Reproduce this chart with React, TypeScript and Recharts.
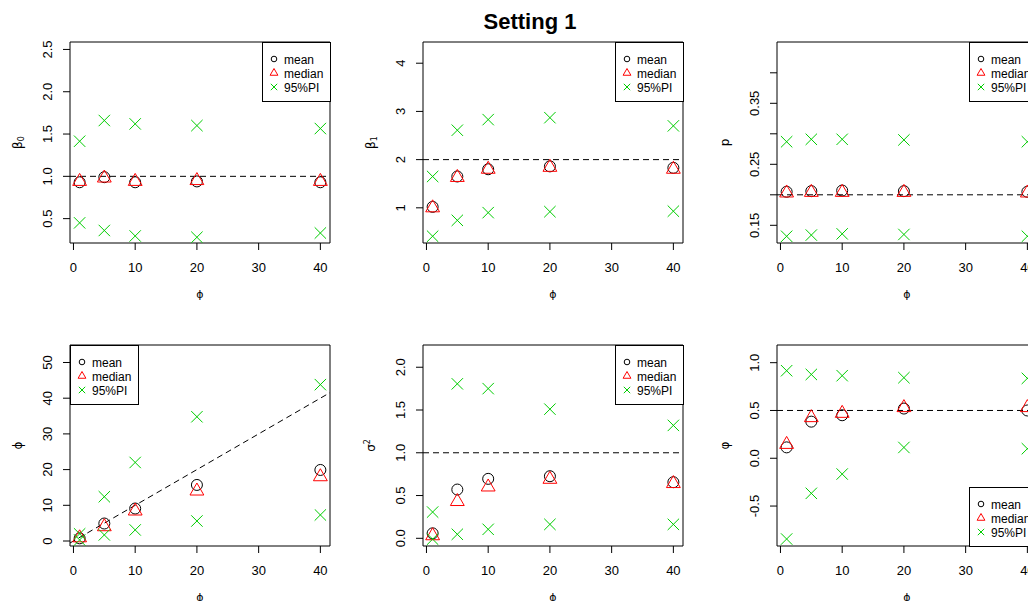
import React from 'react';
import {
  ScatterChart, Scatter, XAxis, YAxis, ReferenceLine, ReferenceArea, Legend,
} from 'recharts';

const PHI = [1, 5, 10, 20, 40];
const X_TICKS = [0, 10, 20, 30, 40];
const X_DOMAIN = [-0.56, 41.56];

// beta0
const B0_MEAN = [0.93, 0.99, 0.93, 0.94, 0.93];
const B0_MEDIAN = [0.94, 0.98, 0.94, 0.95, 0.94];
const B0_UPPER = [1.415, 1.66, 1.62, 1.6, 1.565];
const B0_LOWER = [0.45, 0.36, 0.295, 0.28, 0.33];

// beta1
const B1_MEAN = [1.02, 1.65, 1.8, 1.86, 1.83];
const B1_MEDIAN = [1.0, 1.63, 1.8, 1.84, 1.8];
const B1_UPPER = [1.65, 2.61, 2.83, 2.87, 2.7];
const B1_LOWER = [0.41, 0.74, 0.9, 0.92, 0.93];

// p
const P_MEAN = [0.205, 0.206, 0.207, 0.206, 0.205];
const P_MEDIAN = [0.203, 0.204, 0.204, 0.204, 0.203];
const P_UPPER = [0.287, 0.291, 0.291, 0.29, 0.287];
const P_LOWER = [0.132, 0.134, 0.136, 0.135, 0.132];

// phi
const PHI_MEAN = [0.75, 4.9, 9.1, 15.7, 19.9];
const PHI_MEDIAN = [0.9, 4.0, 8.4, 14.0, 18.0];
const PHI_UPPER = [2.0, 12.4, 22.0, 34.8, 43.8];
const PHI_LOWER = [0.3, 1.7, 3.1, 5.6, 7.3];

// sigma^2
const S2_MEAN = [0.058, 0.57, 0.695, 0.726, 0.656];
const S2_MEDIAN = [0.03, 0.43, 0.6, 0.69, 0.64];
const S2_UPPER = [0.307, 1.806, 1.75, 1.51, 1.32];
const S2_LOWER = [-0.01, 0.047, 0.105, 0.163, 0.163];

// varphi
const VP_MEAN = [0.114, 0.383, 0.45, 0.52, 0.5];
const VP_MEDIAN = [0.145, 0.425, 0.47, 0.53, 0.53];
const VP_UPPER = [0.916, 0.877, 0.864, 0.843, 0.836];
const VP_LOWER = [-0.845, -0.367, -0.165, 0.113, 0.1];

const FONT = '"Liberation Sans", Arial, sans-serif';
const GREEK = '"DejaVu Sans", sans-serif';
const GREEN = '#00cd00';
const RED = '#ff0000';

const BOX_W = 260;
const BOX_H = 201;
const AXIS_W = 70;
const M_TOP = 42;
const M_RIGHT = 20;
const X_H = 60;
const LEG_W = 69;
const LEG_H = 60;

const toPts = (ys: number[]) => PHI.map((x, i) => ({ x, y: ys[i] }));

function CircleMark({ cx, cy, r = 5.5 }: any) {
  return <circle cx={cx} cy={cy} r={r} fill="none" stroke="#000" strokeWidth={1} />;
}

function TriMark({ cx, cy, r = 8 }: any) {
  const h = r * Math.cos(Math.PI / 6);
  return (
    <polygon
      points={`${cx},${cy - r} ${cx + h},${cy + r / 2} ${cx - h},${cy + r / 2}`}
      fill="none" stroke={RED} strokeWidth={1}
    />
  );
}

function CrossMark({ cx, cy, s = 5.7 }: any) {
  return (
    <path
      d={`M${cx - s},${cy - s}L${cx + s},${cy + s}M${cx - s},${cy + s}L${cx + s},${cy - s}`}
      stroke={GREEN} fill="none" strokeWidth={1}
    />
  );
}

function LegendBox() {
  const rows = [
    { label: 'mean', mark: <CircleMark cx={12} cy={17} r={2.8} /> },
    { label: 'median', mark: <TriMark cx={12} cy={31} r={4.5} /> },
    { label: '95%PI', mark: <CrossMark cx={12} cy={45} s={3.2} /> },
  ];
  return (
    <svg width={LEG_W} height={LEG_H} style={{ display: 'block' }}>
      <rect x={0.5} y={0.5} width={LEG_W - 1} height={LEG_H - 1} fill="#fff" stroke="#000" />
      {rows.map((r, i) => (
        <g key={r.label}>
          {r.mark}
          <text x={22} y={17.5 + i * 14} dominantBaseline="central" fontSize={12} fontFamily={FONT} fill="#000">
            {r.label}
          </text>
        </g>
      ))}
    </svg>
  );
}

interface PanelProps {
  left: number;
  top: number;
  yDomain: number[];
  yTicks: number[];
  yTickLabels: string[];
  mean: number[];
  median: number[];
  upper: number[];
  lower: number[];
  truth?: number;
  diagonal?: boolean;
  yLabel: React.ReactNode;
  legendPos: 'topright' | 'topleft' | 'bottomright';
}

function Panel(props: PanelProps) {
  const { left, top, yDomain, yTicks, yTickLabels, mean, median, upper, lower, truth, diagonal, yLabel, legendPos } = props;
  const legLeft = legendPos === 'topleft' ? AXIS_W : AXIS_W + BOX_W - LEG_W + 1;
  const legTop = legendPos === 'bottomright' ? M_TOP + BOX_H - LEG_H + 1 : M_TOP;

  const xTick = (p: any) => (
    <text x={p.x} y={p.y + 17} textAnchor="middle" dominantBaseline="central"
      fontSize={13} fontFamily={FONT} fill="#000">
      {p.payload.value}
    </text>
  );
  const yTick = (p: any) => {
    const idx = yTicks.indexOf(p.payload.value);
    const lbl = idx >= 0 ? yTickLabels[idx] : '';
    const x = p.x - 15;
    return (
      <text x={x} y={p.y} transform={`rotate(-90 ${x} ${p.y})`} textAnchor="middle"
        dominantBaseline="central" fontSize={13} fontFamily={FONT} fill="#000">
        {lbl}
      </text>
    );
  };
  const yLab = (p: any) => {
    const vb = p.viewBox;
    const x = vb.x + 18;
    const y = vb.y + vb.height / 2;
    return (
      <text x={x} y={y} transform={`rotate(-90 ${x} ${y})`} textAnchor="middle"
        dominantBaseline="central" fontSize={12} fontFamily={GREEK} fill="#000">
        {yLabel}
      </text>
    );
  };
  const xLab = (p: any) => {
    const vb = p.viewBox;
    return (
      <text x={vb.x + vb.width / 2} y={vb.y + 51} textAnchor="middle" dominantBaseline="central"
        fontSize={11} fontFamily={GREEK} fill="#000">
        ϕ
      </text>
    );
  };

  return (
    <div style={{ position: 'absolute', left: left - AXIS_W, top: top - M_TOP }}>
      <ScatterChart
        width={AXIS_W + BOX_W + M_RIGHT}
        height={M_TOP + BOX_H + X_H}
        margin={{ top: M_TOP, right: M_RIGHT, left: 0, bottom: 0 }}
      >
        <XAxis type="number" dataKey="x" domain={X_DOMAIN} ticks={X_TICKS} interval={0}
          allowDataOverflow axisLine={false} tickLine={{ stroke: '#000' }} tickSize={7} tickMargin={0}
          height={X_H} tick={xTick} label={{ content: xLab }} />
        <YAxis type="number" dataKey="y" domain={yDomain} ticks={yTicks} interval={0}
          allowDataOverflow axisLine={false} tickLine={{ stroke: '#000' }} tickSize={7} tickMargin={0}
          width={AXIS_W} tick={yTick} label={{ content: yLab }} />
        <ReferenceArea x1={X_DOMAIN[0]} x2={X_DOMAIN[1]} y1={yDomain[0]} y2={yDomain[1]}
          fill="none" fillOpacity={0} stroke="#000" strokeOpacity={1} strokeWidth={1} />
        {truth !== undefined && (
          <ReferenceLine y={truth} stroke="#000" strokeDasharray="6 4" strokeWidth={1} />
        )}
        {diagonal && (
          <ReferenceLine
            segment={[{ x: X_DOMAIN[0], y: X_DOMAIN[0] }, { x: X_DOMAIN[1], y: X_DOMAIN[1] }]}
            stroke="#000" strokeDasharray="6 4" strokeWidth={1}
          />
        )}
        <Scatter data={toPts(mean)} shape={(p: any) => <CircleMark cx={p.cx} cy={p.cy} />} isAnimationActive={false} />
        <Scatter data={toPts(median)} shape={(p: any) => <TriMark cx={p.cx} cy={p.cy} />} isAnimationActive={false} />
        <Scatter data={[...toPts(upper), ...toPts(lower)]} shape={(p: any) => <CrossMark cx={p.cx} cy={p.cy} />} isAnimationActive={false} />
        <Legend layout="vertical" align="center" verticalAlign="middle"
          wrapperStyle={{ left: legLeft, top: legTop, right: 'auto', bottom: 'auto', width: LEG_W, height: LEG_H }}
          content={() => <LegendBox />} />
      </ScatterChart>
    </div>
  );
}

export default function App() {
  const colL = [70, 423, 777];
  const rowT = [42, 345];
  return (
    <div style={{ position: 'absolute', left: 0, top: 0, width: 1028, height: 601, overflow: 'hidden', background: '#fff' }}>
      <svg width={1028} height={40} style={{ position: 'absolute', left: 0, top: 0 }}>
        <text x={530} y={29} textAnchor="middle" fontSize={22} fontWeight="bold" fontFamily={FONT} fill="#000">
          Setting 1
        </text>
      </svg>
      <Panel left={colL[0]} top={rowT[0]} yDomain={[0.212, 2.588]} yTicks={[0.5, 1, 1.5, 2, 2.5]}
        yTickLabels={['0.5', '1.0', '1.5', '2.0', '2.5']}
        mean={B0_MEAN} median={B0_MEDIAN} upper={B0_UPPER} lower={B0_LOWER} truth={1}
        yLabel={<>β<tspan dy={3} fontSize={8}>0</tspan></>} legendPos="topright" />
      <Panel left={colL[1]} top={rowT[0]} yDomain={[0.27, 4.44]} yTicks={[1, 2, 3, 4]}
        yTickLabels={['1', '2', '3', '4']}
        mean={B1_MEAN} median={B1_MEDIAN} upper={B1_UPPER} lower={B1_LOWER} truth={2}
        yLabel={<>β<tspan dy={3} fontSize={8}>1</tspan></>} legendPos="topright" />
      <Panel left={colL[2]} top={rowT[0]} yDomain={[0.121, 0.4505]} yTicks={[0.15, 0.2, 0.25, 0.3, 0.35, 0.4]}
        yTickLabels={['0.15', '', '0.25', '', '0.35', '']}
        mean={P_MEAN} median={P_MEDIAN} upper={P_UPPER} lower={P_LOWER} truth={0.2}
        yLabel="p" legendPos="topright" />
      <Panel left={colL[0]} top={rowT[1]} yDomain={[-1.4, 54.9]} yTicks={[0, 10, 20, 30, 40, 50]}
        yTickLabels={['0', '10', '20', '30', '40', '50']}
        mean={PHI_MEAN} median={PHI_MEDIAN} upper={PHI_UPPER} lower={PHI_LOWER} diagonal
        yLabel="ϕ" legendPos="topleft" />
      <Panel left={colL[1]} top={rowT[1]} yDomain={[-0.09, 2.26]} yTicks={[0, 0.5, 1, 1.5, 2]}
        yTickLabels={['0.0', '0.5', '1.0', '1.5', '2.0']}
        mean={S2_MEAN} median={S2_MEDIAN} upper={S2_UPPER} lower={S2_LOWER} truth={1}
        yLabel={<>σ<tspan dy={-4} fontSize={8}>2</tspan></>} legendPos="topright" />
      <Panel left={colL[2]} top={rowT[1]} yDomain={[-0.918, 1.185]} yTicks={[-0.5, 0, 0.5, 1]}
        yTickLabels={['-0.5', '0.0', '0.5', '1.0']}
        mean={VP_MEAN} median={VP_MEDIAN} upper={VP_UPPER} lower={VP_LOWER} truth={0.5}
        yLabel="φ" legendPos="bottomright" />
    </div>
  );
}
